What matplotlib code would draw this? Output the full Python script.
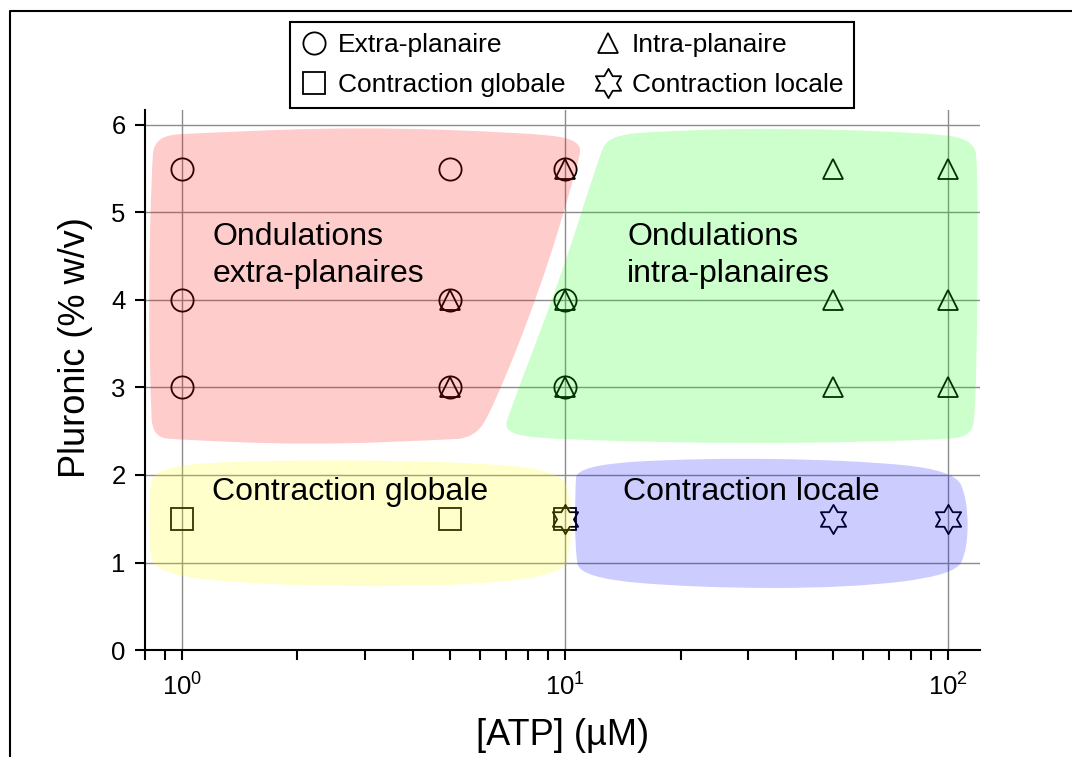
import numpy as np
import matplotlib
matplotlib.use("Agg")
import matplotlib.pyplot as plt
from matplotlib.path import Path
from matplotlib.patches import PathPatch
from matplotlib.lines import Line2D
from matplotlib.ticker import NullFormatter

plt.rcParams["font.family"] = ["Liberation Sans", "DejaVu Sans"]
plt.rcParams["mathtext.fontset"] = "custom"
plt.rcParams["mathtext.rm"] = "Liberation Sans"
plt.rcParams["mathtext.it"] = "Liberation Sans:italic"

# --- data -----------------------------------------------------------------
extra_x = [1, 5, 10, 1, 5, 10, 1, 5, 10]
extra_y = [5.5, 5.5, 5.5, 4, 4, 4, 3, 3, 3]

intra_x = [10, 50, 100, 5, 10, 50, 100, 5, 10, 50, 100]
intra_y = [5.5, 5.5, 5.5, 4, 4, 4, 4, 3, 3, 3, 3]

globale_x = [1, 5, 10]
globale_y = [1.5, 1.5, 1.5]

locale_x = [10, 50, 100]
locale_y = [1.5, 1.5, 1.5]

# outlines of the shaded regions (control points, ATP uM / Pluronic %)
red_x = [0.847, 1.116, 2.917, 8.09, 11.06, 10.80, 8.60, 6.45, 5.78, 4.72,
         2.16, 0.99, 0.837, 0.827, 0.817, 0.832]
red_y = [5.874, 5.909, 5.977, 5.909, 5.829, 5.543, 4.114, 2.743, 2.423, 2.400,
         2.343, 2.400, 2.434, 2.857, 4.114, 5.486]

green_x = [12.93, 17.67, 36.32, 89.4, 117.1, 119.3, 119.3, 117.8, 115.0, 94.9,
           32.2, 9.69, 6.88, 7.18, 9.69, 12.18]
green_y = [5.874, 5.931, 5.966, 5.909, 5.829, 5.486, 4.114, 2.743, 2.446, 2.400,
           2.354, 2.400, 2.469, 2.743, 4.229, 5.600]

yellow_x = [0.845, 1.507, 5.007, 9.81, 10.35, 10.35, 9.81, 5.007, 1.507, 0.845,
            0.818, 0.818]
yellow_y = [2.091, 2.171, 2.160, 2.057, 1.714, 1.143, 0.857, 0.720, 0.743, 0.880,
            1.200, 1.771]

blue_x = [10.74, 22.47, 55.3, 103.9, 112.3, 112.3, 103.9, 55.3, 22.47, 10.93,
          10.61, 10.61]
blue_y = [2.114, 2.194, 2.171, 2.057, 1.714, 1.143, 0.857, 0.709, 0.709, 0.823,
          1.143, 1.829]

regions = [
    (red_x, red_y, "red"),
    (green_x, green_y, "lime"),
    (yellow_x, yellow_y, "yellow"),
    (blue_x, blue_y, "blue"),
]

# anchor = baseline of the last line
region_labels = [
    (1.2, 4.206, "Ondulations\nextra-planaires"),
    (14.5, 4.206, "Ondulations\nintra-planaires"),
    (1.2, 1.714, "Contraction globale"),
    (14.15, 1.714, "Contraction locale"),
]


def blob(xs, ys):
    """Closed smooth outline (quadratic B-spline) through log-x control points."""
    lx = np.log10(np.asarray(xs, float))
    y = np.asarray(ys, float)
    n = len(lx)
    mx = (lx + np.roll(lx, -1)) / 2
    my = (y + np.roll(y, -1)) / 2
    verts = [(mx[-1], my[-1])]
    codes = [Path.MOVETO]
    for i in range(n):
        verts += [(lx[i], y[i]), (mx[i], my[i])]
        codes += [Path.CURVE3, Path.CURVE3]
    verts.append((mx[-1], my[-1]))
    codes.append(Path.CLOSEPOLY)
    verts = np.array(verts)
    verts[:, 0] = 10 ** verts[:, 0]
    return Path(verts, codes)


hexagram = Path.unit_regular_star(6, innerCircle=0.57735)

fig = plt.figure(figsize=(10.72, 7.57), dpi=100)
ax = fig.add_axes([0.1353, 0.1413, 0.7789, 0.7134])

mk = dict(linestyle="none", markerfacecolor="none", markeredgecolor="black",
          markeredgewidth=1.3, zorder=2)
h_circ, = ax.plot(extra_x, extra_y, marker="o", markersize=16, label="Extra-planaire", **mk)
h_sq, = ax.plot(globale_x, globale_y, marker="s", markersize=15.5, label="Contraction globale", **mk)
h_tri, = ax.plot(intra_x, intra_y, marker="^", markersize=14.5, label="Intra-planaire", **mk)
h_star, = ax.plot(locale_x, locale_y, marker=hexagram, markersize=21, label="Contraction locale", **mk)

for xs, ys, col in regions:
    ax.add_patch(PathPatch(blob(xs, ys), facecolor=col, edgecolor="none",
                           alpha=0.2, zorder=3))

for x, y, s in region_labels:
    ax.text(x, y, s, fontsize=23, ha="left", va="baseline", zorder=4,
            linespacing=1.32)

ax.set_xscale("log")
ax.set_xlim(0.8, 121)
ax.set_ylim(0, 6.17)
ax.set_yticks([0, 1, 2, 3, 4, 5, 6])
ax.xaxis.set_minor_formatter(NullFormatter())

ax.grid(True, which="major", color="0.55", linewidth=1.0)
ax.set_axisbelow(True)

for side in ("top", "right"):
    ax.spines[side].set_visible(False)
for side in ("left", "bottom"):
    ax.spines[side].set_linewidth(1.5)
ax.tick_params(which="both", direction="out", length=7, width=1.5,
               labelsize=18.5, pad=7)
ax.tick_params(axis="x", which="major", pad=10)

ax.set_xlabel("[ATP] (µM)", fontsize=26)
ax.set_ylabel("Pluronic (% w/v)", fontsize=26)
ax.xaxis.set_label_coords(0.5, -0.125)
ax.yaxis.set_label_coords(-0.062, 0.56)

leg = fig.legend(handles=[h_circ, h_sq, h_tri, h_star], ncol=2,
                 loc="upper left", bbox_to_anchor=(290 / 1072, 1 - 22 / 757),
                 fontsize=19, frameon=True, fancybox=False, framealpha=1,
                 edgecolor="black", borderaxespad=0, borderpad=0.42,
                 handlelength=1.0, handletextpad=0.4, columnspacing=1.1,
                 labelspacing=0.6, numpoints=1)
leg.get_frame().set_linewidth(1.5)

# figure frame (left and top edges)
fx = 10 / 1072
fy = 1 - 11 / 757
fig.add_artist(Line2D([fx, fx, 1], [0, fy, fy], transform=fig.transFigure,
                      color="black", linewidth=1.5))

fig.savefig("out.png", dpi=100)
